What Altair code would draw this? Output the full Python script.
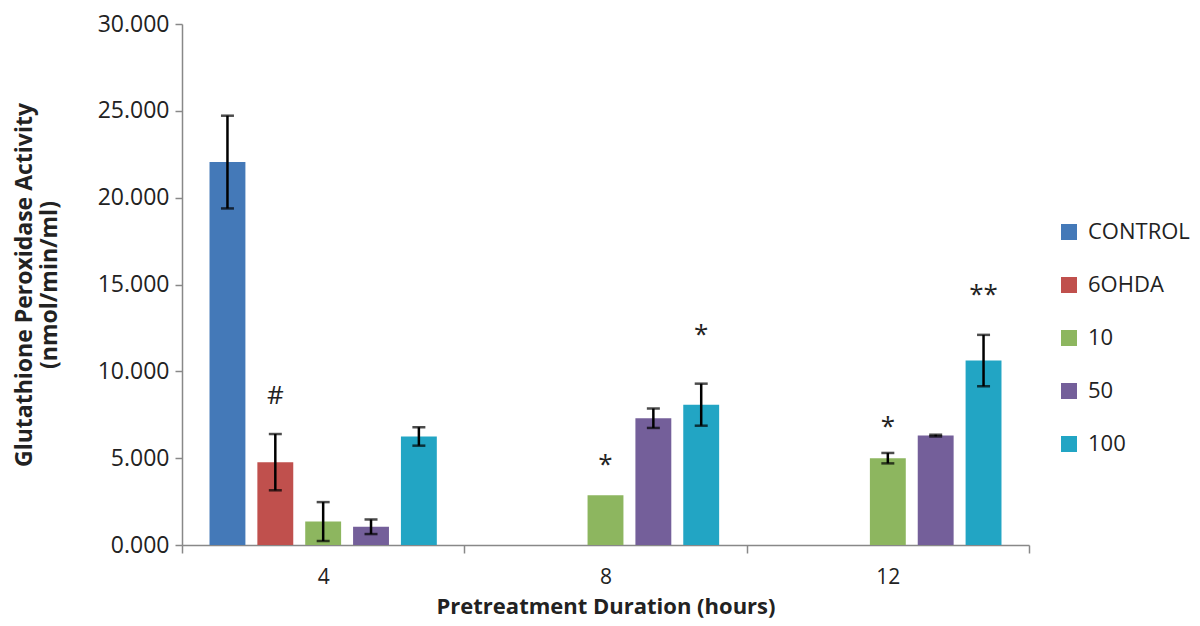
import altair as alt
import pandas as pd

durations = ["4", "8", "12"]
groups = ["CONTROL", "6OHDA", "10", "50", "100"]
colors = ["#4479B8", "#C0504D", "#8DB65F", "#745F9A", "#22A5C4"]

# mean values per duration (order follows groups); None = no bar
means_4 = [22.05, 4.77, 1.35, 1.05, 6.25]
means_8 = [None, None, 2.86, 7.30, 8.08]
means_12 = [None, None, 5.00, 6.30, 10.62]

# error (± half-range) per duration
err_4 = [2.67, 1.62, 1.12, 0.42, 0.53]
err_8 = [None, None, None, 0.56, 1.21]
err_12 = [None, None, 0.30, 0.05, 1.48]

# significance markers
ann_duration = ["4", "8", "8", "12", "12"]
ann_group = ["6OHDA", "10", "100", "10", "100"]
ann_label = ["#", "*", "*", "*", "**"]
ann_y = [8.6, 4.6, 12.1, 6.8, 14.4]

rows = []
for d, ms, es in zip(durations, [means_4, means_8, means_12], [err_4, err_8, err_12]):
    for g, m, e in zip(groups, ms, es):
        if m is None:
            continue
        rows.append({
            "duration": d, "group": g, "value": m,
            "lo": (m - e) if e is not None else None,
            "hi": (m + e) if e is not None else None,
        })
df = pd.DataFrame(rows)
err_df = df.dropna(subset=["lo"])
ann_df = pd.DataFrame({"duration": ann_duration, "group": ann_group,
                       "label": ann_label, "y": ann_y})

FONT = "Open Sans"

x_enc = alt.X("duration:N", sort=durations,
              scale=alt.Scale(domain=durations, paddingInner=0, paddingOuter=0),
              axis=alt.Axis(title="Pretreatment Duration (hours)", labelAngle=0,
                            tickBand="extent", tickSize=8, labelPadding=13,
                            titlePadding=9, labelFontSize=21, titleFontSize=22))
xo_enc = alt.XOffset("group:N", sort=groups,
                     scale=alt.Scale(domain=groups, paddingInner=0.25, paddingOuter=0.575))

y_scale = alt.Scale(domain=[0, 30], nice=False)

bars = alt.Chart(df).mark_bar().encode(
    x=x_enc, xOffset=xo_enc,
    y=alt.Y("value:Q", scale=y_scale,
            axis=alt.Axis(title=["Glutathione Peroxidase Activity", "(nmol/min/ml)"],
                          format=".3f", values=[0, 5, 10, 15, 20, 25, 30],
                          grid=False, tickSize=7, labelPadding=6, titlePadding=36,
                          labelFontSize=23, titleFontSize=23)),
    color=alt.Color("group:N", sort=groups,
                    scale=alt.Scale(domain=groups, range=colors),
                    legend=alt.Legend(title=None, orient="none", legendX=876, legendY=197,
                                      symbolType="square", symbolSize=256,
                                      symbolStrokeWidth=0, labelFontSize=22,
                                      labelFont=FONT, labelColor="#222222",
                                      rowPadding=31, labelOffset=8)),
)

rule = alt.Chart(err_df).mark_rule(color="black", strokeWidth=2.5).encode(
    x=alt.X("duration:N", sort=durations), xOffset=xo_enc,
    y=alt.Y("lo:Q", scale=y_scale), y2="hi:Q")

cap_hi = alt.Chart(err_df).mark_tick(color="black", thickness=2.5, size=13).encode(
    x=alt.X("duration:N", sort=durations), xOffset=xo_enc,
    y=alt.Y("hi:Q", scale=y_scale))
cap_lo = alt.Chart(err_df).mark_tick(color="black", thickness=2.5, size=13).encode(
    x=alt.X("duration:N", sort=durations), xOffset=xo_enc,
    y=alt.Y("lo:Q", scale=y_scale))

ann = alt.Chart(ann_df).mark_text(fontSize=26, font=FONT, color="#222222",
                                  baseline="middle").encode(
    x=alt.X("duration:N", sort=durations), xOffset=xo_enc,
    y=alt.Y("y:Q", scale=y_scale), text="label:N")

chart = alt.layer(bars, rule, cap_hi, cap_lo, ann).properties(
    width=847, height=521,
    autosize=alt.AutoSizeParams(type="none"),
    padding={"left": 174, "top": 16, "right": 162, "bottom": 78},
).configure_view(stroke=None).configure_axis(
    domainColor="#888888", domainWidth=1.5, tickColor="#888888", tickWidth=1.5,
    labelFont=FONT, labelColor="#222222",
    titleFont=FONT, titleFontWeight="bold", titleColor="#222222",
)

chart.save("out.html", embed_options={"renderer": "svg", "actions": False})
